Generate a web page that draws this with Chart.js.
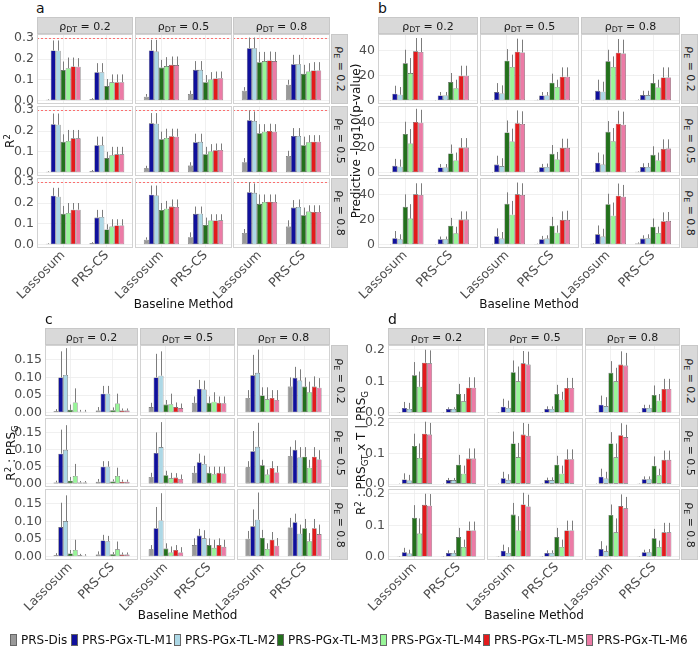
<!DOCTYPE html>
<html>
<head>
<meta charset="utf-8">
<script src="https://cdn.jsdelivr.net/npm/chart.js@4.4.1/dist/chart.umd.min.js"></script>
<style>
body{margin:0;background:#fff;font-family:"DejaVu Sans",sans-serif}
#fig{position:relative;width:699px;height:648px;overflow:hidden;background:#fff}
.bg{position:absolute;background:#fff;z-index:1}
.frame{position:absolute;border:1.5px solid #d2d2d2;box-sizing:border-box;z-index:3}
.strip{position:absolute;background:#d9d9d9;border:1px solid #c8c8c8;box-sizing:border-box;font-size:11px;color:#1a1a1a;z-index:3}
.strip span{position:absolute;left:50%;top:50%;white-space:nowrap;transform:translate(-50%,-50%)}
.strip.side span{transform:translate(-50%,-50%) rotate(90deg)}
canvas{position:absolute;z-index:2}
.ytitle{position:absolute;white-space:nowrap;font-size:12px;color:#111;transform:translate(-50%,-50%) rotate(-90deg);z-index:4}
.xtitle{position:absolute;white-space:nowrap;font-size:12px;color:#111;transform:translateX(-50%);z-index:4}
.tag{position:absolute;font-size:14px;color:#111;z-index:4}
.leg{position:absolute;top:633px;height:13px;display:flex;align-items:center;font-size:12px;color:#111;white-space:nowrap;z-index:4}
.leg i{display:inline-block;width:5px;height:10px;border:0.8px solid #666;margin-right:4px}
sub{font-size:0.72em;vertical-align:-0.3em;line-height:0}
sup{font-size:0.72em;vertical-align:0.45em;line-height:0}
</style>
</head>
<body>
<div id="fig"></div>
<script>
// facetten: rho_DT (columnas) x rho_E (filas), grupos = metodo base
const methods = ["PRS-Dis", "PRS-PGx-TL-M1", "PRS-PGx-TL-M2", "PRS-PGx-TL-M3", "PRS-PGx-TL-M4", "PRS-PGx-TL-M5", "PRS-PGx-TL-M6"]
const baselines = ["Lassosum", "PRS-CS"]
const rhoDT = ["0.2", "0.5", "0.8"]
const rhoE = ["0.2", "0.5", "0.8"]

// a: R2   [fila rhoE][columna rhoDT] = [[Lassosum x7], [PRS-CS x7]]
const r2Mean = [
  [[[0.005,0.241,0.240,0.147,0.156,0.164,0.163],[0.007,0.137,0.137,0.070,0.088,0.089,0.089]],
   [[0.019,0.241,0.236,0.159,0.166,0.172,0.171],[0.032,0.148,0.148,0.089,0.102,0.107,0.108]],
   [[0.048,0.252,0.252,0.185,0.190,0.193,0.190],[0.077,0.175,0.175,0.129,0.140,0.145,0.145]]],
  [[[0.005,0.233,0.230,0.148,0.152,0.165,0.165],[0.007,0.132,0.132,0.070,0.084,0.088,0.088]],
   [[0.021,0.237,0.235,0.160,0.167,0.175,0.173],[0.034,0.146,0.148,0.089,0.102,0.108,0.109]],
   [[0.050,0.252,0.248,0.189,0.197,0.200,0.197],[0.080,0.176,0.176,0.132,0.146,0.149,0.149]]],
  [[[0.005,0.235,0.230,0.148,0.152,0.168,0.168],[0.007,0.130,0.133,0.073,0.087,0.092,0.092]],
   [[0.024,0.240,0.236,0.167,0.173,0.183,0.181],[0.036,0.148,0.149,0.095,0.116,0.116,0.117]],
   [[0.056,0.252,0.249,0.195,0.205,0.206,0.205],[0.087,0.178,0.181,0.141,0.159,0.157,0.157]]]
]
const r2Upper = [
  [[[0.008,0.289,0.289,0.188,0.207,0.207,0.204],[0.012,0.180,0.180,0.104,0.126,0.126,0.126]],
   [[0.032,0.292,0.292,0.196,0.209,0.212,0.212],[0.048,0.190,0.190,0.123,0.137,0.140,0.140]],
   [[0.065,0.303,0.303,0.234,0.234,0.236,0.234],[0.100,0.220,0.220,0.172,0.180,0.185,0.185]]],
  [[[0.008,0.284,0.284,0.184,0.205,0.205,0.205],[0.013,0.173,0.173,0.100,0.124,0.124,0.124]],
   [[0.033,0.286,0.286,0.197,0.211,0.211,0.211],[0.050,0.187,0.187,0.124,0.137,0.140,0.140]],
   [[0.070,0.298,0.294,0.233,0.233,0.235,0.233],[0.105,0.214,0.214,0.173,0.180,0.180,0.180]]],
  [[[0.008,0.273,0.273,0.186,0.200,0.200,0.200],[0.012,0.167,0.167,0.098,0.122,0.122,0.122]],
   [[0.035,0.284,0.284,0.200,0.210,0.217,0.217],[0.059,0.183,0.183,0.130,0.146,0.146,0.146]],
   [[0.075,0.300,0.294,0.241,0.241,0.241,0.241],[0.117,0.214,0.217,0.178,0.189,0.189,0.189]]]
]

// b: -log10(p-value)
const pvalMean = [
  [[[0.3,5.6,4.8,29.7,22.0,39.2,38.7],[0.3,4.2,4.2,14.8,10.0,19.9,19.9]],
   [[0.3,6.9,5.8,31.8,26.8,38.9,38.4],[0.5,4.2,4.2,14.3,10.9,19.1,19.1]],
   [[0.4,7.9,7.2,31.3,26.8,38.1,37.6],[0.6,4.5,4.5,14.0,10.6,18.5,18.5]]],
  [[[0.3,5.5,4.8,30.8,23.2,40.3,39.7],[0.3,4.2,4.2,15.3,9.8,20.0,20.0]],
   [[0.3,6.5,5.3,32.0,24.8,39.3,38.7],[0.5,4.3,4.6,15.0,10.5,19.8,19.8]],
   [[0.5,8.0,6.5,32.5,25.0,38.9,38.2],[0.8,4.5,4.6,14.2,9.8,19.0,19.2]]],
  [[[0.3,5.2,4.4,30.1,20.8,40.0,39.5],[0.3,4.4,4.4,15.1,9.1,20.0,20.0]],
   [[0.4,6.8,4.9,32.5,23.9,40.0,39.5],[0.6,4.4,4.9,15.1,9.6,19.7,19.7]],
   [[0.8,8.3,6.5,32.2,23.1,39.0,38.2],[1.0,4.9,5.2,14.3,9.4,18.7,19.0]]]
]
const pvalUpper = [
  [[[0.5,11.9,10.9,40.5,33.9,49.8,49.8],[0.5,6.9,6.9,22.0,16.7,27.8,27.8]],
   [[0.6,14.0,12.2,41.0,36.6,49.3,48.5],[0.8,6.9,6.9,21.5,16.7,26.5,26.5]],
   [[0.7,16.7,15.1,40.5,35.2,49.0,48.5],[1.0,7.9,7.9,21.2,16.7,26.5,26.5]]],
  [[[0.5,11.0,10.5,40.5,34.7,50.8,50.0],[0.5,6.9,6.9,22.4,16.0,27.5,27.5]],
   [[0.6,13.5,11.5,41.5,35.0,49.5,48.8],[0.8,7.0,7.3,22.0,16.5,27.0,27.0]],
   [[0.8,16.0,14.5,41.0,35.5,49.3,48.5],[1.2,7.5,7.8,21.0,16.0,26.5,26.5]]],
  [[[0.5,10.9,8.3,40.0,32.2,48.8,48.8],[0.5,6.5,6.5,21.3,14.3,26.5,26.5]],
   [[0.7,13.0,10.1,41.6,34.8,49.4,48.8],[0.9,7.0,7.5,22.1,15.3,26.5,27.0]],
   [[1.2,15.3,12.7,40.5,33.5,48.6,47.5],[1.8,7.5,8.3,20.8,14.3,25.7,26.0]]]
]

// c: R2 : PRS_G
const r2gMean = [
  [[[0.004,0.100,0.107,0.008,0.029,0.003,0.003],[0.006,0.054,0.054,0.007,0.026,0.006,0.006]],
   [[0.016,0.100,0.105,0.023,0.024,0.016,0.013],[0.028,0.068,0.066,0.028,0.031,0.028,0.027]],
   [[0.042,0.106,0.113,0.049,0.038,0.042,0.036],[0.074,0.099,0.091,0.074,0.058,0.074,0.071]]],
  [[[0.004,0.088,0.099,0.009,0.023,0.004,0.004],[0.006,0.050,0.050,0.007,0.023,0.006,0.006]],
   [[0.020,0.090,0.107,0.025,0.016,0.018,0.014],[0.032,0.063,0.058,0.032,0.028,0.032,0.030]],
   [[0.048,0.095,0.108,0.054,0.027,0.046,0.033],[0.080,0.099,0.077,0.079,0.047,0.079,0.071]]],
  [[[0.004,0.084,0.101,0.009,0.019,0.004,0.003],[0.006,0.046,0.044,0.007,0.021,0.006,0.006]],
   [[0.021,0.081,0.103,0.023,0.012,0.019,0.012],[0.033,0.060,0.052,0.033,0.025,0.033,0.028]],
   [[0.051,0.086,0.105,0.054,0.022,0.048,0.031],[0.083,0.098,0.065,0.081,0.044,0.081,0.064]]]
]
const r2gUpper = [
  [[[0.010,0.174,0.183,0.023,0.069,0.008,0.008],[0.016,0.076,0.076,0.015,0.054,0.012,0.012]],
   [[0.028,0.167,0.174,0.036,0.054,0.029,0.026],[0.046,0.093,0.091,0.046,0.058,0.046,0.046]],
   [[0.064,0.164,0.179,0.072,0.072,0.064,0.064],[0.100,0.130,0.123,0.100,0.088,0.103,0.098]]],
  [[[0.009,0.158,0.171,0.020,0.058,0.008,0.008],[0.014,0.066,0.066,0.013,0.047,0.012,0.012]],
   [[0.032,0.150,0.180,0.038,0.032,0.031,0.027],[0.052,0.088,0.082,0.050,0.050,0.050,0.050]],
   [[0.066,0.154,0.178,0.070,0.042,0.066,0.052],[0.108,0.127,0.107,0.107,0.070,0.107,0.098]]],
  [[[0.010,0.153,0.174,0.019,0.048,0.008,0.007],[0.015,0.062,0.059,0.013,0.043,0.012,0.012]],
   [[0.033,0.141,0.180,0.038,0.029,0.033,0.027],[0.052,0.079,0.075,0.052,0.048,0.052,0.048]],
   [[0.073,0.134,0.182,0.076,0.038,0.070,0.053],[0.110,0.122,0.091,0.107,0.067,0.107,0.091]]]
]

// d: R2 : PRS_GT x T | PRS_G
const r2gtMean = [
  [[[0.001,0.016,0.013,0.119,0.083,0.159,0.157],[0.001,0.013,0.013,0.060,0.037,0.080,0.080]],
   [[0.001,0.020,0.016,0.129,0.100,0.157,0.153],[0.002,0.013,0.013,0.060,0.042,0.079,0.079]],
   [[0.001,0.026,0.022,0.127,0.100,0.153,0.150],[0.002,0.016,0.016,0.057,0.039,0.076,0.076]]],
  [[[0.001,0.015,0.012,0.124,0.085,0.164,0.161],[0.001,0.013,0.013,0.063,0.034,0.083,0.083]],
   [[0.001,0.019,0.014,0.132,0.088,0.161,0.157],[0.002,0.013,0.013,0.063,0.034,0.081,0.081]],
   [[0.001,0.024,0.018,0.132,0.087,0.159,0.153],[0.002,0.016,0.016,0.060,0.029,0.079,0.079]]],
  [[[0.001,0.015,0.011,0.124,0.074,0.165,0.162],[0.001,0.013,0.013,0.063,0.032,0.084,0.084]],
   [[0.001,0.020,0.013,0.134,0.084,0.166,0.160],[0.002,0.013,0.013,0.063,0.032,0.084,0.084]],
   [[0.001,0.025,0.018,0.133,0.078,0.161,0.154],[0.002,0.015,0.015,0.059,0.032,0.078,0.078]]]
]
const r2gtUpper = [
  [[[0.002,0.035,0.032,0.161,0.131,0.200,0.198],[0.002,0.018,0.018,0.092,0.060,0.113,0.113]],
   [[0.002,0.045,0.039,0.166,0.147,0.196,0.194],[0.003,0.021,0.021,0.089,0.067,0.111,0.111]],
   [[0.002,0.055,0.050,0.164,0.143,0.195,0.190],[0.003,0.026,0.026,0.087,0.060,0.108,0.108]]],
  [[[0.002,0.035,0.030,0.164,0.132,0.203,0.199],[0.002,0.020,0.020,0.095,0.060,0.116,0.116]],
   [[0.002,0.040,0.032,0.171,0.134,0.199,0.196],[0.003,0.021,0.022,0.092,0.060,0.113,0.113]],
   [[0.002,0.050,0.040,0.169,0.132,0.198,0.193],[0.003,0.025,0.025,0.090,0.050,0.109,0.109]]],
  [[[0.002,0.029,0.023,0.164,0.122,0.200,0.199],[0.002,0.021,0.021,0.092,0.055,0.112,0.112]],
   [[0.002,0.039,0.031,0.171,0.129,0.203,0.197],[0.003,0.021,0.021,0.092,0.055,0.115,0.115]],
   [[0.002,0.050,0.036,0.166,0.122,0.198,0.190],[0.003,0.023,0.025,0.089,0.052,0.108,0.108]]]
]

const r2Ticks = [0, 0.1, 0.2, 0.3]
const pvalTicks = [0, 20, 40]
const r2gTicks = [0, 0.05, 0.10, 0.15]
const r2gtTicks = [0, 0.1, 0.2]

const methodColors = ["#999999", "#10109c", "#add8e6", "#23701c", "#98f598", "#e31a1c", "#ec7ba6"]

Chart.defaults.font.family = "'DejaVu Sans', sans-serif"
Chart.defaults.animation = false

// configuracion de cada panel (posiciones en px)
const panels = [
  {tag: "a", mean: r2Mean, upper: r2Upper, ticks: r2Ticks, digits: 1, yMin: -0.016, yMax: 0.32, refLine: 0.3,
   cols: [[37,133],[135,232],[233,330]], rows: [[34,104],[106,176],[178,248]], stripTop: 17, side: [331,348],
   yTitle: "R<sup>2</sup>", yTitleX: 10, xTitleY: 297, tagPos: [36, 0]},
  {tag: "b", mean: pvalMean, upper: pvalUpper, ticks: pvalTicks, digits: 0, yMin: -2.6, yMax: 53,
   cols: [[378,478],[480,579],[581,680]], rows: [[34,104],[106,176],[178,248]], stripTop: 17, side: [681,698],
   yTitle: "Predictive -log10(p-value)", yTitleX: 356, xTitleY: 297, tagPos: [378, 0]},
  {tag: "c", mean: r2gMean, upper: r2gUpper, ticks: r2gTicks, digits: 2, yMin: -0.0094, yMax: 0.192,
   cols: [[45,138],[140,235],[237,330]], rows: [[345,416],[418,487],[489,560]], stripTop: 328, side: [331,348],
   yTitle: "R<sup>2</sup> : PRS<sub>G</sub>", yTitleX: 11, xTitleY: 608, tagPos: [45, 311]},
  {tag: "d", mean: r2gtMean, upper: r2gtUpper, ticks: r2gtTicks, digits: 1, yMin: -0.0095, yMax: 0.215,
   cols: [[388,485],[487,583],[585,680]], rows: [[345,416],[418,487],[489,560]], stripTop: 328, side: [681,698],
   yTitle: "R<sup>2</sup> : PRS<sub>GT</sub> x T | PRS<sub>G</sub>", yTitleX: 361, xTitleY: 608, tagPos: [388, 311]}
]

// lineas de error (solo hacia arriba, sin tapas)
const errorBars = {
  id: "errorBars",
  afterDatasetsDraw(chart) {
    const ctx = chart.ctx
    const y = chart.scales.y
    const area = chart.chartArea
    ctx.save()
    ctx.beginPath()
    ctx.rect(area.left, area.top, area.right - area.left, area.bottom - area.top)
    ctx.clip()
    ctx.strokeStyle = "#7c7c7c"
    ctx.lineWidth = 1
    ctx.beginPath()
    chart.data.datasets.forEach((ds, i) => {
      chart.getDatasetMeta(i).data.forEach((bar, j) => {
        const top = y.getPixelForValue(ds.upper[j])
        const x = Math.round(bar.x) + 0.5
        ctx.moveTo(x, bar.y)
        ctx.lineTo(x, top)
      })
    })
    ctx.stroke()
    ctx.restore()
  }
}

// linea roja punteada de referencia
const refLine = {
  id: "refLine",
  beforeDatasetsDraw(chart) {
    const v = chart.config.options.refValue
    if (v == null) return
    const ctx = chart.ctx
    const area = chart.chartArea
    const py = Math.round(chart.scales.y.getPixelForValue(v)) + 0.5
    ctx.save()
    ctx.strokeStyle = "#ff5050"
    ctx.lineWidth = 0.8
    ctx.setLineDash([2, 2])
    ctx.beginPath()
    ctx.moveTo(area.left, py)
    ctx.lineTo(area.right, py)
    ctx.stroke()
    ctx.restore()
  }
}

const fig = document.getElementById("fig")

function addDiv(cls, left, top, width, height, html) {
  const d = document.createElement("div")
  d.className = cls
  d.style.left = left + "px"
  d.style.top = top + "px"
  if (width != null) d.style.width = width + "px"
  if (height != null) d.style.height = height + "px"
  if (html != null) d.innerHTML = html
  fig.appendChild(d)
  return d
}

function makeFacet(P, r, c) {
  const [x0, x1] = P.cols[c]
  const [y0, y1] = P.rows[r]
  const axisW = c === 0 ? 44 : 0          // ancho del eje y (solo primera columna)
  const padL = (c === 0 || r === 2) ? 44 : 0  // espacio para etiquetas giradas
  const padB = r === 2 ? 62 : 0
  const padT = 8
  const w = x1 - x0 + padL
  const h = y1 - y0 + padT + padB

  addDiv("bg", x0, y0, x1 - x0, y1 - y0)
  addDiv("frame", x0, y0, x1 - x0, y1 - y0)

  const canvas = document.createElement("canvas")
  canvas.width = w
  canvas.height = h
  canvas.style.width = w + "px"
  canvas.style.height = h + "px"
  canvas.style.left = (x0 - padL) + "px"
  canvas.style.top = (y0 - padT) + "px"
  fig.appendChild(canvas)

  const facetMean = P.mean[r][c]
  const facetUpper = P.upper[r][c]
  const datasets = methods.map((m, k) => ({
    label: m,
    data: baselines.map((b, g) => ({x: g + 1, y: facetMean[g][k]})),
    upper: baselines.map((b, g) => facetUpper[g][k]),
    backgroundColor: methodColors[k],
    borderColor: "#555555",
    borderWidth: 0.6,
    borderSkipped: false,
    categoryPercentage: 0.8,
    barPercentage: 1
  }))

  new Chart(canvas, {
    type: "bar",
    data: {datasets},
    plugins: [refLine, errorBars],
    options: {
      responsive: false,
      events: [],
      refValue: P.refLine,
      layout: {padding: {top: padT, left: padL - axisW, right: 0, bottom: 0}},
      plugins: {legend: {display: false}, tooltip: {enabled: false}},
      scales: {
        x: {
          type: "linear",
          min: 0.4, max: 2.6,
          offset: false,
          afterBuildTicks: s => { s.ticks = baselines.map((b, g) => ({value: g + 1})) },
          afterFit: s => { s.height = padB; s.paddingLeft = 0; s.paddingRight = 0 },
          grid: {color: "#ececec", lineWidth: 0.8, offset: false, drawTicks: false},
          border: {display: false},
          ticks: {
            display: r === 2,
            autoSkip: false,
            minRotation: 45, maxRotation: 45,
            padding: 0,
            color: "#4d4d4d",
            font: {size: 12.5},
            callback: v => baselines[Math.round(v) - 1]
          }
        },
        y: {
          min: P.yMin, max: P.yMax,
          afterBuildTicks: s => { s.ticks = P.ticks.map(v => ({value: v})) },
          afterFit: s => { s.width = axisW; s.paddingTop = 0; s.paddingBottom = 0 },
          grid: {color: "#ececec", lineWidth: 0.8, drawTicks: false},
          border: {display: false},
          ticks: {
            display: c === 0,
            padding: 3,
            color: "#4d4d4d",
            font: {size: 12.5},
            callback: v => Number(v).toFixed(P.digits)
          }
        }
      }
    }
  })
}

panels.forEach(P => {
  addDiv("tag", P.tagPos[0], P.tagPos[1], null, null, P.tag)
  // tiras superiores (rho_DT)
  P.cols.forEach((col, c) => {
    const s = addDiv("strip", col[0], P.stripTop, col[1] - col[0], P.rows[0][0] - P.stripTop)
    s.innerHTML = "<span>&rho;<sub>DT</sub> = " + rhoDT[c] + "</span>"
  })
  // tiras laterales (rho_E)
  P.rows.forEach((row, r) => {
    const s = addDiv("strip side", P.side[0], row[0], P.side[1] - P.side[0], row[1] - row[0])
    s.innerHTML = "<span>&rho;<sub>E</sub> = " + rhoE[r] + "</span>"
  })
  for (let r = 0; r < 3; r++) {
    for (let c = 0; c < 3; c++) makeFacet(P, r, c)
  }
  const midY = (P.rows[0][0] + P.rows[2][1]) / 2
  addDiv("ytitle", P.yTitleX, midY, null, null, P.yTitle)
  const midX = (P.cols[0][0] + P.cols[2][1]) / 2
  addDiv("xtitle", midX, P.xTitleY, null, null, "Baseline Method")
})

// leyenda
const legendX = [10, 71, 174, 277, 380, 483, 586]
methods.forEach((m, k) => {
  const item = addDiv("leg", legendX[k], 633, null, null, "")
  const sw = document.createElement("i")
  sw.style.background = methodColors[k]
  item.appendChild(sw)
  item.appendChild(document.createTextNode(m))
})
</script>
</body>
</html>
